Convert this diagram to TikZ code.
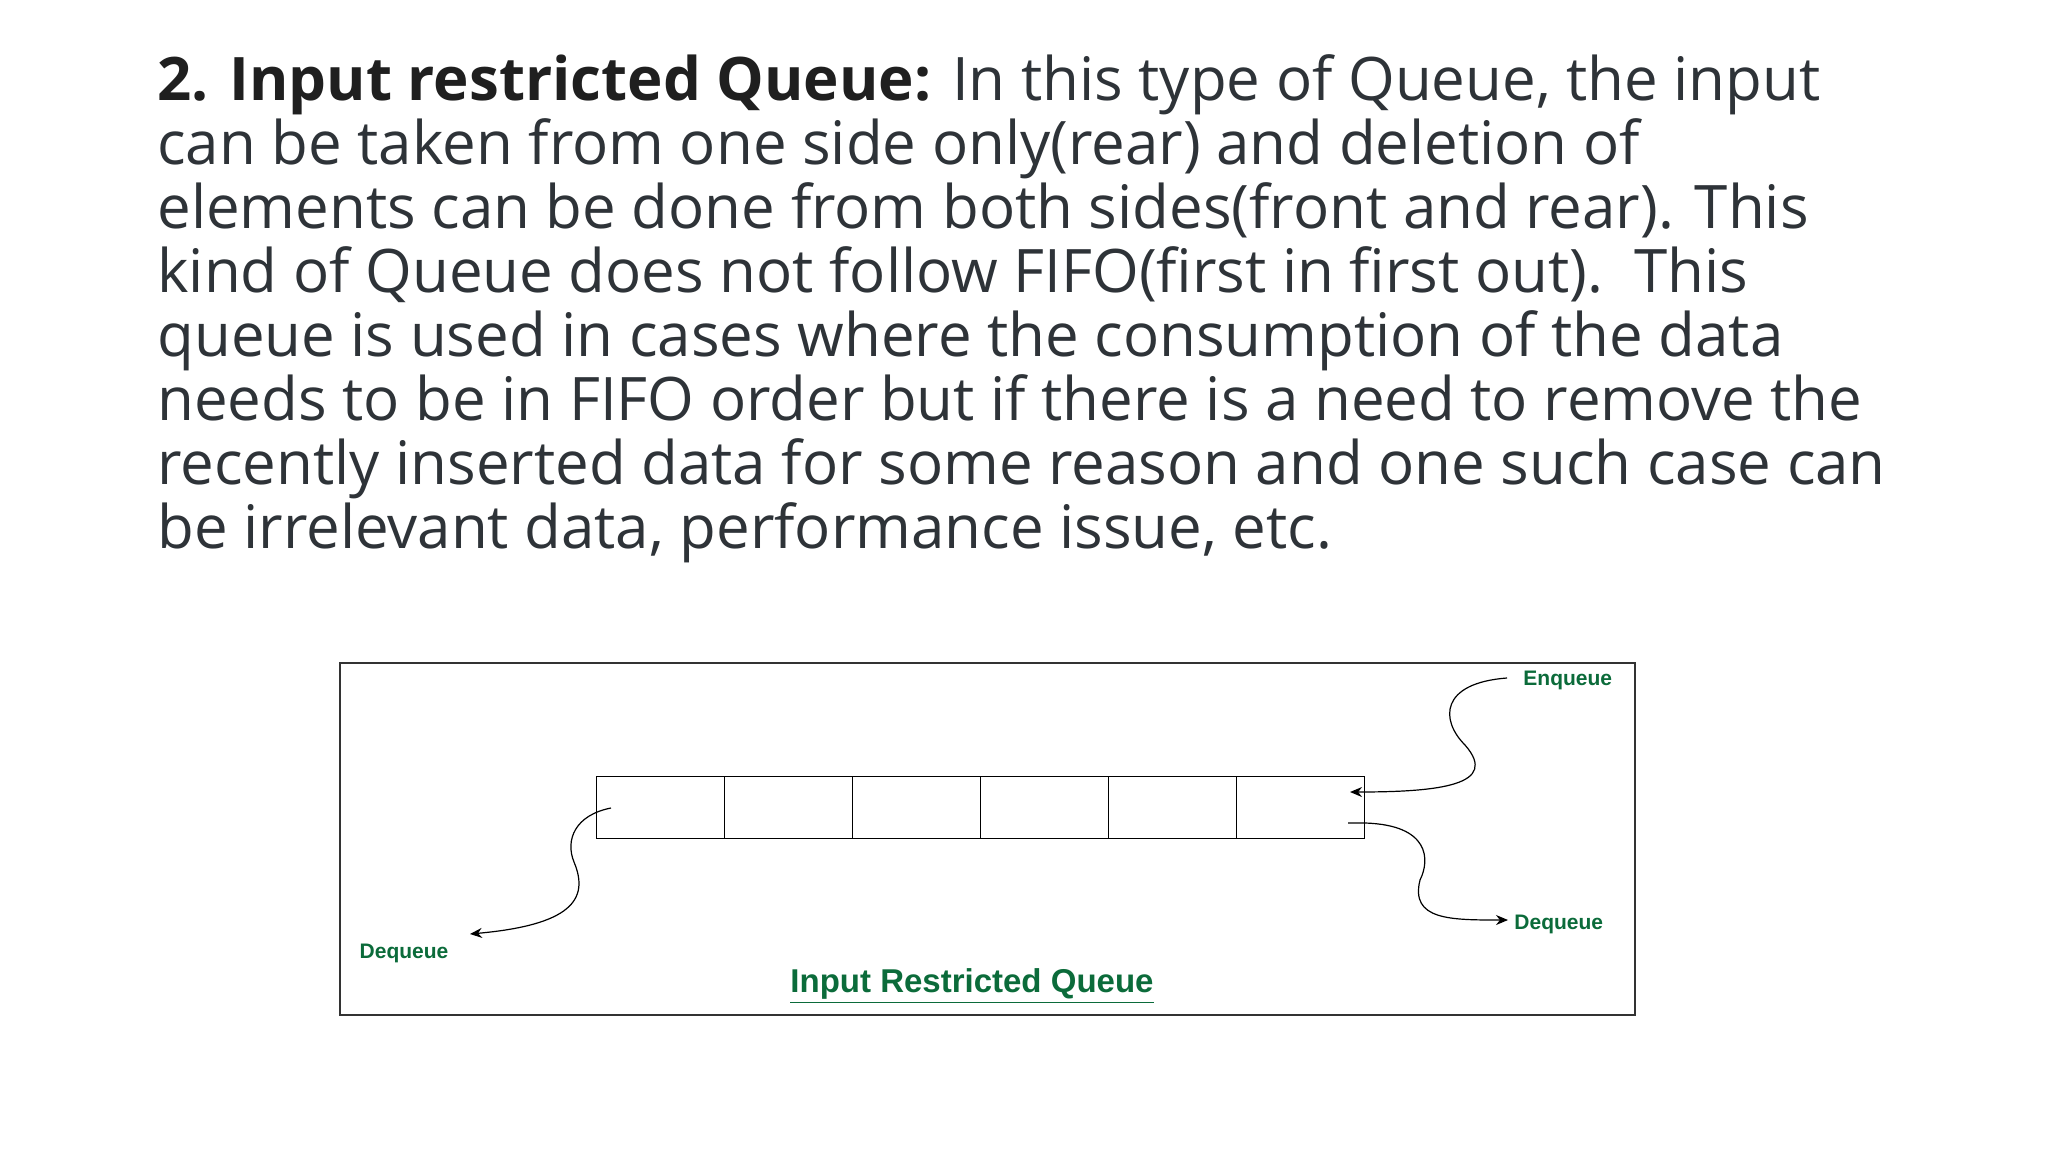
\documentclass[tikz,border=0pt]{standalone}
\usepackage{fontspec}
\setmainfont{Open Sans}
\newfontfamily\arial{Liberation Sans}
\usetikzlibrary{arrows.meta}
\definecolor{txt}{HTML}{2E3338}
\definecolor{gfg}{HTML}{0B6B3A}
\tikzset{
  lbl/.style={font=\arial\bfseries\fontsize{10.5}{12}\selectfont, text=gfg, inner sep=0pt},
  cell/.style={draw=black, line width=0.7pt, minimum width=64pt, minimum height=31pt, inner sep=0pt, anchor=north west},
  curve/.style={line width=0.6pt, -{Stealth[length=6pt,width=5pt]}}
}
\begin{document}
\begin{tikzpicture}[x=0.5pt,y=-0.5pt]
\useasboundingbox (0,0) rectangle (2048,1152);
\node[anchor=base west, inner sep=0pt, text=txt, align=left, font=\fontsize{30}{32}\selectfont] (para) at (157,548)
{\textbf{\color{black!88}2. Input restricted Queue:} In this type of Queue, the input\\
can be taken from one side only(rear) and deletion of\\
elements can be done from both sides(front and rear). This\\
kind of Queue does not follow FIFO(first in first out).\ \ This\\
queue is used in cases where the consumption of the data\\
needs to be in FIFO order but if there is a need to remove the\\
recently inserted data for some reason and one such case can\\
be irrelevant data, performance issue, etc.};
\draw[line width=1.3pt, draw=black!80] (340,663) rectangle (1635,1015);
\foreach \i in {0,...,5} {
  \node[cell] (c\i) at ({596+128*\i},776) {};
}
\node[lbl, anchor=west] (enq) at (1523,680) {Enqueue};
\node[lbl, anchor=west] (deqr) at (1514,924) {Dequeue};
\node[lbl] (deql) at (404,953) {Dequeue};
\node[font=\arial\bfseries\fontsize{16.5}{18}\selectfont, text=gfg, inner sep=0pt] (title) at (972,986) {\underline{Input Restricted Queue}};
\coordinate (e0) at (1507,678);
\coordinate (e1) at (1350,792);
\draw[curve] (e0) .. controls (1440,683) and (1440,720) .. (1465,745) .. controls (1500,785) and (1440,792) .. (e1);
\coordinate (r0) at (1348,823);
\coordinate (r1) at (1508,920);
\draw[curve] (r0) -- (1365,823) .. controls (1430,825) and (1430,860) .. (1420,880) .. controls (1410,920) and (1450,920) .. (r1);
\coordinate (l0) at (611,808);
\coordinate (l1) at (470,934);
\draw[curve] (l0) .. controls (575,815) and (565,840) .. (574,862) .. controls (590,900) and (570,925) .. (l1);
\end{tikzpicture}
\end{document}
